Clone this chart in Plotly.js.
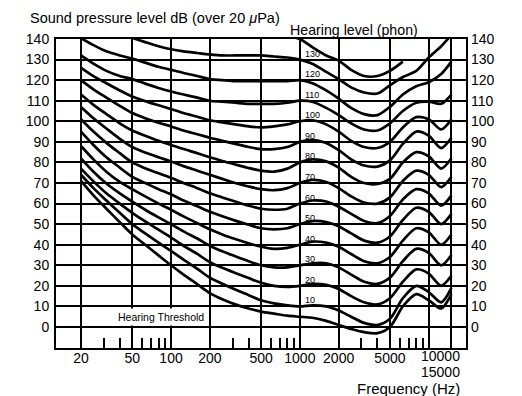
<!DOCTYPE html>
<html><head><meta charset="utf-8">
<script src="https://cdn.plot.ly/plotly-3.0.1.min.js"></script>
<style>html,body{margin:0;padding:0;background:#fff;}#chart{width:522px;height:396px;}</style>
</head><body><div id="chart"></div>
<script>
// Frequencies (Hz) at which the contours were read
const FREQ = [20, 25, 31.5, 40, 50, 63, 80, 100, 125, 160, 200, 250, 315, 400, 500, 630, 800, 1000, 1250, 1600, 2000, 2500, 3150, 4000, 5000, 6300, 8000, 10000, 12500, 15000];

// Sound pressure level (dB) of each equal-loudness contour
const THRESHOLD = [71, 64, 57.5, 51, 45, 40, 34.8, 30, 25.5, 20.8, 16.5, 13.5, 11, 9, 7.5, 6.5, 5.5, 5, 4.5, 3, 1, -1, -2.5, -3, 0, 10, 16, 13, 9, 16];
const PHON_10  = [74, 67.5, 61.5, 55.5, 50, 45.5, 41, 37, 32.7, 28.3, 24, 21, 18.2, 15.5, 13, 11.5, 10.5, 10, 10.5, 10, 8, 5, 2, 1, 4, 14, 20, 17, 12, 19];
const PHON_20  = [77, 70.8, 65, 60, 55.5, 51.3, 47.3, 43.5, 39.5, 35.5, 31.5, 28.8, 26.3, 23.8, 21.5, 20, 19.5, 20, 21, 20.5, 18.5, 15, 12, 11, 14, 22, 28, 26, 20, 25];
const PHON_30  = [82, 75.5, 69.8, 65, 61, 57, 53.3, 50, 46.5, 43, 39.5, 36.8, 34.4, 32, 30, 29, 29, 30, 31, 31, 29, 25.5, 22, 21, 24, 32, 38, 36, 30, 35];
const PHON_40  = [88, 81.5, 75.5, 70.5, 67, 63.5, 60, 57, 53.8, 50.5, 47.5, 45, 42.8, 40.7, 39, 38, 38.5, 40, 41.5, 41, 39, 35.5, 32, 31, 34, 42, 48, 46, 40, 45];
const PHON_50  = [95, 88.5, 82.5, 77.5, 73, 70, 67, 64.5, 61.5, 58.7, 56, 53.8, 51.7, 49.7, 48, 47.5, 48, 50, 51.5, 51, 49, 45.5, 42, 41, 44, 52, 58, 56, 50, 55];
const PHON_60  = [101, 95, 89.5, 84.5, 80, 77.2, 74.7, 72.5, 70, 67.5, 65, 63, 61, 59, 57.5, 57, 57.5, 60, 61.5, 61, 58.5, 55, 51.5, 50.5, 54, 62, 67, 65, 59, 64];
const PHON_70  = [107, 101.5, 96.5, 91.5, 87.5, 84.8, 82.5, 80.5, 78.2, 76, 74, 72, 70, 68.3, 67, 66.5, 67.5, 70, 71.5, 70.5, 67.5, 63.5, 60.5, 60, 63, 71, 76, 74, 68, 73];
const PHON_80  = [113, 108, 103.5, 99, 95.5, 93, 90.5, 88.5, 86.5, 84.5, 82.5, 80.7, 79, 77.3, 76, 75.5, 77, 80, 81.5, 80.5, 77.5, 73, 70, 69.5, 72, 80, 85, 83, 77, 82];
const PHON_90  = [120, 115.5, 111.5, 107.5, 104, 101.5, 99.3, 97.5, 95.5, 93.7, 92, 90.5, 89, 87.5, 86.5, 86.5, 87.5, 90, 91, 89.5, 86, 81.5, 78.5, 78, 81, 89, 95, 93, 87, 92];
const PHON_100 = [126, 122, 118.5, 115, 112, 109.8, 107.8, 106, 104, 102.2, 100.5, 99.5, 98.5, 97.5, 97, 97.5, 98.5, 100, 100.5, 98.5, 95, 90.5, 87.5, 87, 90, 97, 102, 101, 96, 101];
const PHON_110 = [132, 128, 124.5, 122, 120.5, 118.3, 116.2, 114.5, 113, 111.5, 110, 109.5, 109, 108.5, 108.5, 108.5, 109, 110, 109.5, 106.5, 103, 99, 96, 95.5, 99, 105, 109, 109.5, 108.5, 113];
const PHON_120 = [140.5, 137, 134, 132, 130.5, 128.5, 126.5, 125, 123.5, 122, 120.5, 120, 119.5, 119.5, 119.5, 119.5, 119.5, 120, 118.5, 115, 111, 106.5, 103.5, 103, 107, 113, 117, 119, 123, 129];
const PHON_130 = [150, 148, 145, 142.5, 140.5, 138.5, 136.5, 135, 134, 133.2, 132.5, 132, 132, 132, 132, 131.5, 131, 130, 128, 124, 120.5, 116.5, 114, 113.5, 117.5, 121.5, 124.5, 131, 136.5, 142];
const PHON_140 = [null, null, null, null, null, null, null, null, null, null, null, null, null, null, null, 143, 141.5, 140, 136, 132, 129.5, 125, 122, 122, 124.5, 129, null, null, null, null];

const SERIES = [THRESHOLD, PHON_10, PHON_20, PHON_30, PHON_40, PHON_50, PHON_60, PHON_70, PHON_80, PHON_90, PHON_100, PHON_110, PHON_120, PHON_130, PHON_140];

// Axis ticks and labels
const X_GRID = [20, 50, 100, 200, 500, 1000, 2000, 5000, 10000, 15000];
const X_TICKTEXT = ['20', '50', '100', '200', '500', '1000', '2000', '5000', '', ''];
const X_MINOR = [30, 40, 60, 70, 80, 90, 300, 400, 600, 700, 800, 900, 3000, 4000, 6000, 7000, 8000, 9000];
const X_EXTRA_LABELS = ['10000', '15000'];
const Y_TICKS = [0, 10, 20, 30, 40, 50, 60, 70, 80, 90, 100, 110, 120, 130, 140];
const PHON_LABELS = [130, 120, 110, 100, 90, 80, 70, 60, 50, 40, 30, 20, 10];

const FONT = 'Liberation Sans, Arial, Helvetica, sans-serif';

const traces = SERIES.map(s => ({
  x: FREQ, y: s, type: 'scatter', mode: 'lines', connectgaps: false,
  line: {color: '#000', width: 2.7, shape: 'spline', smoothing: 0.8},
  hoverinfo: 'skip', showlegend: false
}));
traces.push({x: [], y: [], yaxis: 'y2', type: 'scatter', mode: 'lines', showlegend: false});

const plain = {showarrow: false, borderpad: 0, borderwidth: 0};
const annotations = [
  Object.assign({text: 'Sound pressure level dB (over 20 <i>μ</i>Pa)', xref: 'paper', yref: 'paper', x: -0.0634, y: 1.068,
   xanchor: 'left', yanchor: 'middle', font: {family: FONT, size: 14.5, color: '#000'}}, plain),
  Object.assign({text: 'Hearing level (phon)', xref: 'paper', yref: 'paper', x: 0.5707, y: 1.029,
   xanchor: 'left', yanchor: 'middle', font: {family: FONT, size: 14.2, color: '#000'}}, plain),
  Object.assign({text: 'Frequency (Hz)', xref: 'paper', yref: 'paper', x: 0.9854, y: -0.1288, height: 16,
   xanchor: 'right', yanchor: 'middle', font: {family: FONT, size: 15, color: '#000'}}, plain),
  Object.assign({text: X_EXTRA_LABELS[0], xref: 'x', yref: 'paper', x: Math.log10(12235), y: -0.0275, height: 12,
   xanchor: 'center', yanchor: 'middle', font: {family: FONT, size: 14, color: '#000'}}, plain),
  Object.assign({text: X_EXTRA_LABELS[1], xref: 'x', yref: 'paper', x: Math.log10(12235), y: -0.0761, height: 12,
   xanchor: 'center', yanchor: 'middle', font: {family: FONT, size: 14, color: '#000'}}, plain),
  {text: 'Hearing Threshold', xref: 'x', yref: 'y', x: Math.log10(83), y: 4.9,
   xanchor: 'center', yanchor: 'middle', showarrow: false, bgcolor: '#fff', borderpad: 2,
   font: {family: FONT, size: 10.5, color: '#000'}}
];
PHON_LABELS.forEach(p => annotations.push({
  text: String(p), xref: 'x', yref: 'y', x: 3, y: p, xanchor: 'left', yanchor: 'middle',
  xshift: 5, yshift: 6, showarrow: false, borderpad: 0, borderwidth: 0, font: {family: FONT, size: 9, color: '#000'}
}));

const layout = {
  width: 522, height: 396,
  margin: {l: 56, r: 56, t: 39, b: 48, pad: 0},
  paper_bgcolor: '#fff', plot_bgcolor: '#fff',
  showlegend: false,
  font: {family: FONT, size: 14, color: '#000'},
  xaxis: {
    type: 'log', range: [Math.log10(12.8), Math.log10(19470)],
    tickmode: 'array', tickvals: X_GRID, ticktext: X_TICKTEXT,
    showgrid: true, gridcolor: '#000', gridwidth: 2,
    ticks: '', ticklabelstandoff: -4, showline: true, mirror: true, linecolor: '#000', linewidth: 2,
    zeroline: false, tickfont: {family: FONT, size: 14, color: '#000'},
    minor: {tickmode: 'array', tickvals: X_MINOR, ticks: 'inside', ticklen: 10, tickwidth: 2, tickcolor: '#000', showgrid: false}
  },
  yaxis: {
    range: [-10.2, 140], tickmode: 'array', tickvals: Y_TICKS,
    showgrid: true, gridcolor: '#000', gridwidth: 2,
    ticks: '', ticklabelstandoff: 2, showline: true, mirror: true, linecolor: '#000', linewidth: 2,
    zeroline: false, tickfont: {family: FONT, size: 14, color: '#000'}
  },
  yaxis2: {
    overlaying: 'y', side: 'right', range: [-10.2, 140], tickmode: 'array', tickvals: Y_TICKS,
    showgrid: false, ticks: '', ticklabelstandoff: 4, showline: false, zeroline: false,
    tickfont: {family: FONT, size: 14, color: '#000'}
  },
  annotations: annotations
};

Plotly.newPlot('chart', traces, layout, {displayModeBar: false, staticPlot: true});
</script>
</body></html>
